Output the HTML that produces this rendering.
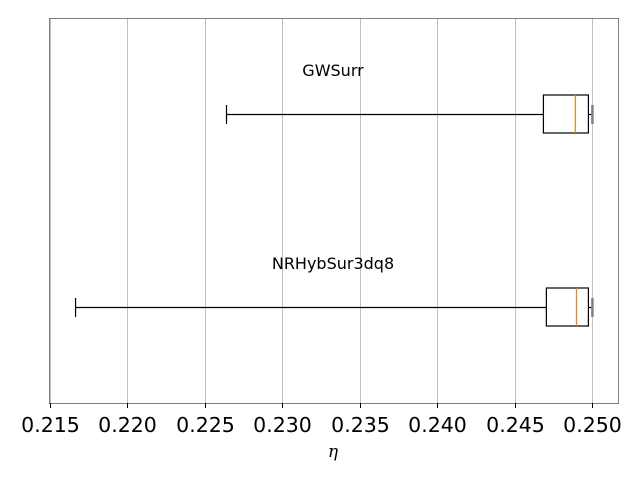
<!DOCTYPE html>
<html><head><meta charset="utf-8"><style>
body{margin:0;background:#fff;}
svg{display:block;font-family:"DejaVu Sans","Liberation Sans",sans-serif;}
</style></head><body>
<svg id="chart" width="640" height="480" viewBox="0 0 640 480" xmlns="http://www.w3.org/2000/svg">
<rect x="0" y="0" width="640" height="480" fill="#fff"/>
<g id="grid"></g>
<g id="boxes"></g>
<rect x="49.5" y="18.5" width="569" height="385" fill="none" stroke="#808080" stroke-width="1"/>
<g id="xticks"></g>
<text x="333" y="457" font-size="17" font-family="DejaVu Serif,serif" font-style="italic" text-anchor="middle">η</text>
</svg>
<script>
const categories = ["GWSurr", "NRHybSur3dq8"];
const whiskerLow = [0.22641, 0.21668];
const q1 = [0.24684, 0.24703];
const medians = [0.24890, 0.24897];
const q3 = [0.24974, 0.24974];
const whiskerHigh = [0.25000, 0.25000];
const tickValues = [0.215,0.220,0.225,0.230,0.235,0.240,0.245,0.250];
const tickLabels = ["0.215","0.220","0.225","0.230","0.235","0.240","0.245","0.250"];

const NS="http://www.w3.org/2000/svg";
const xmin=0.215, xmax=0.25168, L=49.5, R=618.5;
function xs(v){return L+(v-xmin)/(xmax-xmin)*(R-L);}
const rowY=[114,307];
function ys(i){return rowY[i];}
function mk(tag,attrs,parent){const e=document.createElementNS(NS,tag);for(const k in attrs)e.setAttribute(k,attrs[k]);parent.appendChild(e);return e;}
const grid=document.getElementById('grid'), xt=document.getElementById('xticks'), bx=document.getElementById('boxes');
tickValues.forEach((v,i)=>{
  const x=Math.round(xs(v))+0.5;
  const g=mk('line',{x1:x,x2:x,y1:18,y2:403,stroke:'#c0c0c0','stroke-width':1},grid);
  
  
  const t=mk('line',{x1:x,x2:x,y1:403,y2:408,stroke:'#000','stroke-width':1},xt);
  
  
  const lb=mk('text',{x:x,y:432,'font-size':20.5,'text-anchor':'middle',fill:'#000'},xt);
  lb.textContent=tickLabels[i];
  
  
});
categories.forEach((c,i)=>{
  const y=ys(i), h=19;
  const g=mk('g',{},bx);
  
  
  mk('line',{x1:xs(whiskerLow[i]),x2:xs(q1[i]),y1:y+0.5,y2:y+0.5,stroke:'#000','stroke-width':1.2},g);
  mk('line',{x1:xs(q3[i]),x2:xs(whiskerHigh[i]),y1:y+0.5,y2:y+0.5,stroke:'#000','stroke-width':1.2},g);
  mk('line',{x1:xs(whiskerLow[i]),x2:xs(whiskerLow[i]),y1:y-9,y2:y+10,stroke:'#000','stroke-width':1.2},g);
  mk('line',{x1:xs(whiskerHigh[i]),x2:xs(whiskerHigh[i]),y1:y-9,y2:y+10,stroke:'#808080','stroke-width':2.5},g);
  mk('rect',{x:xs(q1[i]),y:y-h,width:xs(q3[i])-xs(q1[i]),height:2*h,fill:'none',stroke:'#000','stroke-width':1.2},g);
  mk('line',{x1:xs(medians[i]),x2:xs(medians[i]),y1:y-h,y2:y+h,stroke:'#ff7f0e','stroke-width':1.2},g);
  const t=mk('text',{x:333,y:y-38,'font-size':16,'text-anchor':'middle',fill:'#000'},bx);
  t.textContent=c;
  
  
});
</script>
</body></html>
